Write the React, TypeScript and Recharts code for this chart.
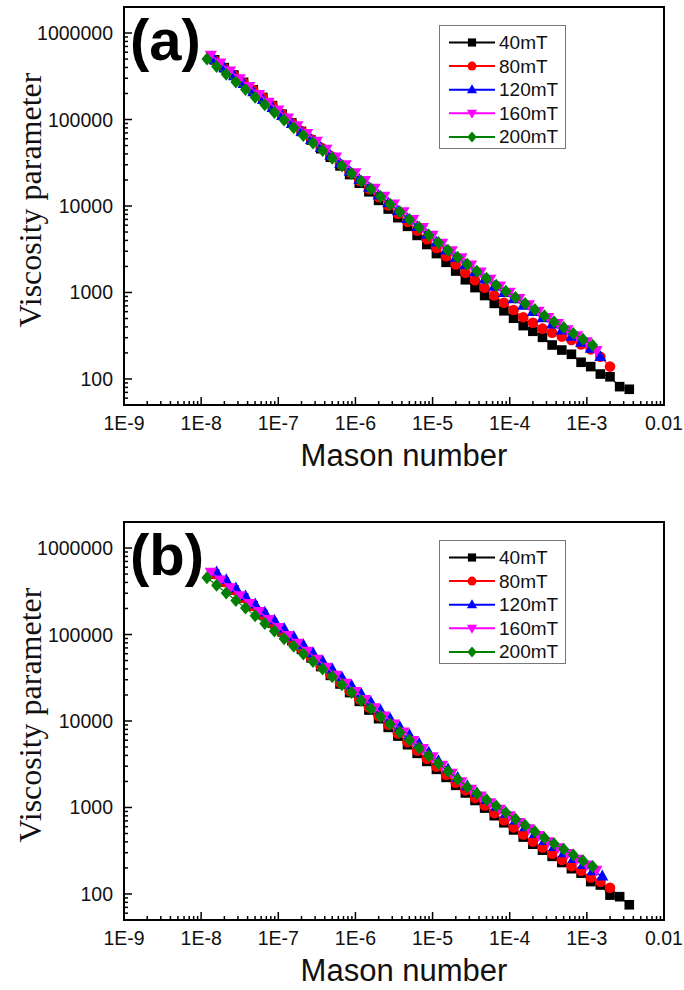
import React from "react";
import {
  ScatterChart,
  Scatter,
  XAxis,
  YAxis,
  ReferenceArea,
  Label,
  Legend,
} from "recharts";

const SANS = "'Liberation Sans', Arial, sans-serif";
const SERIF = "'Liberation Serif', 'Times New Roman', serif";

// Mason number sampling grids (about 8 points per decade)
const MASON_GRID_1 = [
  1.496e-8, 1.995e-8, 2.661e-8, 3.548e-8, 4.732e-8, 6.31e-8, 8.414e-8,
  1.122e-7, 1.496e-7, 1.995e-7, 2.661e-7, 3.548e-7, 4.732e-7, 6.31e-7, 8.414e-7,
  1.122e-6, 1.496e-6, 1.995e-6, 2.661e-6, 3.548e-6, 4.732e-6, 6.31e-6, 8.414e-6,
  1.122e-5, 1.496e-5, 1.995e-5, 2.661e-5, 3.548e-5, 4.732e-5, 6.31e-5, 8.414e-5,
  1.122e-4, 1.496e-4, 1.995e-4, 2.661e-4, 3.548e-4, 4.732e-4, 6.31e-4, 8.414e-4,
  1.122e-3, 1.496e-3, 1.995e-3, 2.661e-3, 3.548e-3,
];
const MASON_GRID_2 = [
  1.189e-8, 1.585e-8, 2.113e-8, 2.818e-8, 3.758e-8, 5.012e-8, 6.683e-8, 8.913e-8,
  1.189e-7, 1.585e-7, 2.113e-7, 2.818e-7, 3.758e-7, 5.012e-7, 6.683e-7, 8.913e-7,
  1.189e-6, 1.585e-6, 2.113e-6, 2.818e-6, 3.758e-6, 5.012e-6, 6.683e-6, 8.913e-6,
  1.189e-5, 1.585e-5, 2.113e-5, 2.818e-5, 3.758e-5, 5.012e-5, 6.683e-5, 8.913e-5,
  1.189e-4, 1.585e-4, 2.113e-4, 2.818e-4, 3.758e-4, 5.012e-4, 6.683e-4, 8.913e-4,
  1.189e-3, 1.585e-3,
];
const MASON_GRID_3 = [
  1.334e-8, 1.778e-8, 2.371e-8, 3.162e-8, 4.217e-8, 5.623e-8, 7.499e-8,
  1e-7, 1.334e-7, 1.778e-7, 2.371e-7, 3.162e-7, 4.217e-7, 5.623e-7, 7.499e-7,
  1e-6, 1.334e-6, 1.778e-6, 2.371e-6, 3.162e-6, 4.217e-6, 5.623e-6, 7.499e-6,
  1e-5, 1.334e-5, 1.778e-5, 2.371e-5, 3.162e-5, 4.217e-5, 5.623e-5, 7.499e-5,
  1e-4, 1.334e-4, 1.778e-4, 2.371e-4, 3.162e-4, 4.217e-4, 5.623e-4, 7.499e-4,
  1e-3, 1.334e-3,
];

// panel (a) viscosity parameter
const VISC_A_40 = [
  490000, 398000, 327000, 269000, 221000, 180000, 145000, 115300, 91600, 72800,
  57900, 46000, 36600, 29100, 23100, 18370, 14590, 11610, 9226, 7328,
  5821, 4571, 3589, 2818, 2234, 1770, 1403, 1138, 923, 748,
  614, 504, 414, 356, 303, 247, 216, 193, 156, 139,
  114, 106, 81.5, 76,
];
const VISC_A_80 = [
  480000, 392000, 323000, 266000, 219000, 179000, 145000, 115300, 91600,
  73500, 59000, 47400, 38000, 30500, 24500, 19630, 15740, 12680, 10160, 8147,
  6531, 5188, 4121, 3273, 2624, 2104, 1687, 1384, 1135, 925,
  760, 627, 518, 446, 382, 343, 309, 282, 251, 220,
  181, 139,
];
const VISC_A_120 = [
  489000, 395000, 320000, 259000, 209000, 169000, 137100, 110700, 89500, 72400,
  58600, 47400, 38400, 31000, 25100, 20300, 16410, 13340, 10810, 8790,
  7129, 5781, 4688, 3802, 3083, 2535, 2094, 1726, 1426, 1178,
  993, 841, 710, 601, 508, 431, 366, 310, 264, 225,
  181,
];
const VISC_A_160 = [
  556000, 452000, 366000, 298000, 242000, 196000, 159200, 129100, 105000, 85300,
  69200, 56200, 45700, 37100, 30100, 24400, 19800, 16100, 13060, 10620,
  8610, 7000, 5675, 4603, 3741, 3062, 2529, 2094, 1730, 1429,
  1194, 1012, 855, 723, 612, 518, 441, 373, 318, 270,
  214,
];
const VISC_A_200 = [
  501000, 409000, 333000, 272000, 222000, 181000, 147900, 120500, 98400, 80400,
  65500, 53500, 43700, 35600, 29000, 23700, 19320, 15780, 12850, 10500,
  8570, 6982, 5689, 4634, 3776, 3076, 2553, 2118, 1758, 1459,
  1211, 1030, 875, 745, 634, 538, 460, 393, 336, 287,
  245,
];

// panel (b) viscosity parameter
const VISC_B_40 = [
  500000, 405000, 328000, 265000, 214000, 170000, 134900, 107200, 85100, 67500,
  53600, 42600, 33700, 26800, 21300, 16870, 13400, 10640, 8433, 6699,
  5321, 4227, 3412, 2761, 2228, 1803, 1472, 1205, 984, 804,
  665, 550, 455, 376, 321, 272, 231, 196, 174, 139,
  127, 97, 93, 75,
];
const VISC_B_80 = [
  500000, 405000, 328000, 265000, 214000, 170000, 134900, 107200, 85100, 67500, 53600,
  43100, 34500, 27700, 22300, 17860, 14350, 11400, 9036, 7178,
  5702, 4529, 3656, 2958, 2388, 1932, 1578, 1291, 1054, 861,
  713, 589, 488, 403, 344, 292, 248, 210, 186, 155,
  138, 118,
];
const VISC_B_120 = [
  530000, 429000, 346000, 279000, 225000, 181000, 146000, 117600, 94700, 76300,
  61400, 49500, 39800, 32100, 25800, 20700, 16600, 13300, 10700, 8570,
  6918, 5483, 4355, 3475, 2786, 2223, 1778, 1479, 1227, 1026,
  855, 713, 596, 497, 414, 352, 299, 255, 218, 185,
  161,
];
const VISC_B_160 = [
  527000, 429000, 349000, 283000, 229000, 185000, 150000, 121500, 98200, 79500,
  64300, 52000, 42000, 33900, 27400, 22100, 17800, 14300, 11500, 9300,
  7500, 6000, 4819, 3873, 3105, 2495, 2000, 1633, 1361, 1143,
  962, 805, 676, 569, 478, 403, 344, 295, 254, 218,
  189,
];
const VISC_B_200 = [
  454000, 371000, 303000, 247000, 202000, 164400, 134300, 109600, 89500, 73100,
  59700, 48800, 39800, 32500, 26300, 21300, 17220, 13930, 11270, 9141,
  7413, 6026, 4887, 3972, 3221, 2618, 2123, 1726, 1455, 1227,
  1038, 875, 738, 624, 526, 444, 381, 328, 282, 242,
  208,
];

const SERIES_NAMES = ["40mT", "80mT", "120mT", "160mT", "200mT"];
const SERIES_COLORS = ["#000000", "#ff0000", "#0000ff", "#ff00ff", "#008000"];
const SERIES_SHAPES = ["square", "circle", "triangle", "triangleDown", "diamond"];

const X_DECADES = [1e-9, 1e-8, 1e-7, 1e-6, 1e-5, 1e-4, 1e-3, 1e-2];
const X_LABELS = ["1E-9", "1E-8", "1E-7", "1E-6", "1E-5", "1E-4", "1E-3", "0.01"];
const Y_DECADES = [10, 100, 1000, 10000, 100000, 1000000];
const Y_LABELS = ["10", "100", "1000", "10000", "100000", "1000000"];
const MINOR_STEPS = [1, 2, 3, 4, 5, 6, 7, 8, 9];

const X_DOMAIN = [1e-9, 1e-2];
const Y_DOMAIN = [50, 2e6];

// layout
const CHART_W = 684;
const CHART_H = 475;
const PLOT_LEFT = 124;
const PLOT_TOP = 7;
const PLOT_BOTTOM = 405;

const X_TICKS = X_DECADES.flatMap((d) => MINOR_STEPS.map((m) => m * d)).filter(
  (v) => v <= X_DOMAIN[1] * 1.0001
);
const Y_TICKS = Y_DECADES.flatMap((d) => MINOR_STEPS.map((m) => m * d)).filter(
  (v) => v >= Y_DOMAIN[0] && v <= Y_DOMAIN[1] * 1.0001
);

const findDecade = (list: number[], v: number) =>
  list.findIndex((d) => Math.abs(v / d - 1) < 1e-6);

type Row = { grid: number[]; start: number; visc: number[] };

const PANEL_A: Row[] = [
  { grid: MASON_GRID_1, start: 0, visc: VISC_A_40 },
  { grid: MASON_GRID_1, start: 0, visc: VISC_A_80 },
  { grid: MASON_GRID_1, start: 0, visc: VISC_A_120 },
  { grid: MASON_GRID_3, start: 0, visc: VISC_A_160 },
  { grid: MASON_GRID_2, start: 0, visc: VISC_A_200 },
];
const PANEL_B: Row[] = [
  { grid: MASON_GRID_1, start: 0, visc: VISC_B_40 },
  { grid: MASON_GRID_1, start: 0, visc: VISC_B_80 },
  { grid: MASON_GRID_2, start: 1, visc: VISC_B_120 },
  { grid: MASON_GRID_3, start: 0, visc: VISC_B_160 },
  { grid: MASON_GRID_2, start: 0, visc: VISC_B_200 },
];

const toPoints = (r: Row) => r.visc.map((y, i) => ({ x: r.grid[r.start + i], y }));

function Glyph({ kind, x, y, color, s = 1 }: { kind: string; x: number; y: number; color: string; s?: number }) {
  if (kind === "square") {
    return <rect x={x - 4.8 * s} y={y - 4.8 * s} width={9.6 * s} height={9.6 * s} fill={color} />;
  }
  if (kind === "circle") {
    return <circle cx={x} cy={y} r={5.3 * s} fill={color} />;
  }
  let pts = "";
  if (kind === "triangle") {
    pts = `${x},${y - 6.5 * s} ${x + 6 * s},${y + 4.3 * s} ${x - 6 * s},${y + 4.3 * s}`;
  } else if (kind === "triangleDown") {
    pts = `${x},${y + 6.5 * s} ${x + 6 * s},${y - 4.3 * s} ${x - 6 * s},${y - 4.3 * s}`;
  } else {
    pts = `${x},${y - 6.5 * s} ${x + 5.5 * s},${y} ${x},${y + 6.5 * s} ${x - 5.5 * s},${y}`;
  }
  return <polygon points={pts} fill={color} />;
}

function XTick(props: any) {
  const { x, payload } = props;
  const idx = findDecade(X_DECADES, payload.value);
  const major = idx >= 0;
  return (
    <g>
      <line x1={x} x2={x} y1={PLOT_BOTTOM} y2={PLOT_BOTTOM - (major ? 8 : 4)} stroke="#000" strokeWidth={1.5} />
      {major && (
        <text x={x} y={PLOT_BOTTOM + 18} textAnchor="middle" dominantBaseline="central" fontFamily={SANS} fontSize={19.5} fill="#111">
          {X_LABELS[idx]}
        </text>
      )}
    </g>
  );
}

function YTick(props: any) {
  const { y, payload } = props;
  const idx = findDecade(Y_DECADES, payload.value);
  const major = idx >= 0;
  return (
    <g>
      <line x1={PLOT_LEFT} x2={PLOT_LEFT + (major ? 8 : 4)} y1={y} y2={y} stroke="#000" strokeWidth={1.5} />
      {major && (
        <text x={PLOT_LEFT - 11} y={y} textAnchor="end" dominantBaseline="central" fontFamily={SANS} fontSize={19.5} fill="#111">
          {Y_LABELS[idx]}
        </text>
      )}
    </g>
  );
}

function XTitle(props: any) {
  const vb = props.viewBox;
  return (
    <text x={vb.x + vb.width / 2 + 10} y={vb.y + 50} textAnchor="middle" dominantBaseline="central" fontFamily={SANS} fontSize={31} fill="#111">
      Mason number
    </text>
  );
}

function YTitle(props: any) {
  const vb = props.viewBox;
  const cx = 30;
  const cy = vb.y + vb.height / 2 - 6;
  return (
    <text x={cx} y={cy} transform={`rotate(-90 ${cx} ${cy})`} textAnchor="middle" dominantBaseline="central" fontFamily={SERIF} fontSize={32} fill="#111">
      Viscosity parameter
    </text>
  );
}

function LegendBox() {
  return (
    <svg width={127} height={124} style={{ display: "block" }}>
      <rect x={0.5} y={0.5} width={126} height={123} fill="#fff" stroke="#777" strokeWidth={1} />
      {SERIES_NAMES.map((name, i) => {
        const cy = 17.5 + i * 23.6;
        return (
          <g key={name}>
            <line x1={10} x2={56} y1={cy} y2={cy} stroke={SERIES_COLORS[i]} strokeWidth={2} />
            <Glyph kind={SERIES_SHAPES[i]} x={33} y={cy} color={SERIES_COLORS[i]} s={0.85} />
            <text x={60} y={cy} dominantBaseline="central" fontFamily={SANS} fontSize={19} fill="#111">
              {name}
            </text>
          </g>
        );
      })}
    </svg>
  );
}

function Panel({ letter, rows, top }: { letter: string; rows: Row[]; top: number }) {
  return (
    <div style={{ position: "absolute", left: 0, top, width: CHART_W, height: CHART_H }}>
      <ScatterChart
        width={CHART_W}
        height={CHART_H}
        margin={{ top: PLOT_TOP, right: 20, bottom: 0, left: 0 }}
      >
        <XAxis
          type="number"
          dataKey="x"
          scale="log"
          domain={X_DOMAIN}
          allowDataOverflow
          ticks={X_TICKS}
          interval={0}
          tick={XTick}
          tickLine={false}
          axisLine={{ stroke: "#000", strokeWidth: 2 }}
          height={CHART_H - PLOT_BOTTOM}
        >
          <Label content={XTitle} />
        </XAxis>
        <YAxis
          type="number"
          dataKey="y"
          scale="log"
          domain={Y_DOMAIN}
          allowDataOverflow
          ticks={Y_TICKS}
          interval={0}
          tick={YTick}
          tickLine={false}
          axisLine={{ stroke: "#000", strokeWidth: 2 }}
          width={PLOT_LEFT}
        >
          <Label content={YTitle} />
        </YAxis>
        <ReferenceArea
          x1={X_DOMAIN[0]}
          x2={X_DOMAIN[1]}
          y1={Y_DOMAIN[0]}
          y2={Y_DOMAIN[1]}
          fill="none"
          stroke="#000"
          strokeWidth={2}
          ifOverflow="visible"
        />
        {rows.map((r, i) => (
          <Scatter
            key={SERIES_NAMES[i]}
            name={SERIES_NAMES[i]}
            data={toPoints(r)}
            fill={SERIES_COLORS[i]}
            line={{ stroke: SERIES_COLORS[i], strokeWidth: 1.2 }}
            lineType="joint"
            shape={(p: any) => <Glyph kind={SERIES_SHAPES[i]} x={p.cx} y={p.cy} color={SERIES_COLORS[i]} />}
            isAnimationActive={false}
          />
        ))}
        <Legend
          content={LegendBox}
          layout="vertical"
          align="center"
          verticalAlign="middle"
          wrapperStyle={{ left: 439, top: 25, width: 127, height: 124 }}
        />
      </ScatterChart>
      <svg width={CHART_W} height={CHART_H} style={{ position: "absolute", left: 0, top: 0, pointerEvents: "none" }}>
        <text x={130} y={59.5} fontFamily={SANS} fontWeight="bold" fontSize={58} fill="#000">
          {letter}
        </text>
      </svg>
    </div>
  );
}

export default function App() {
  return (
    <div style={{ position: "absolute", left: 0, top: 0, width: 684, height: 990, background: "#fff" }}>
      <Panel letter="(a)" rows={PANEL_A} top={0} />
      <Panel letter="(b)" rows={PANEL_B} top={515} />
    </div>
  );
}
